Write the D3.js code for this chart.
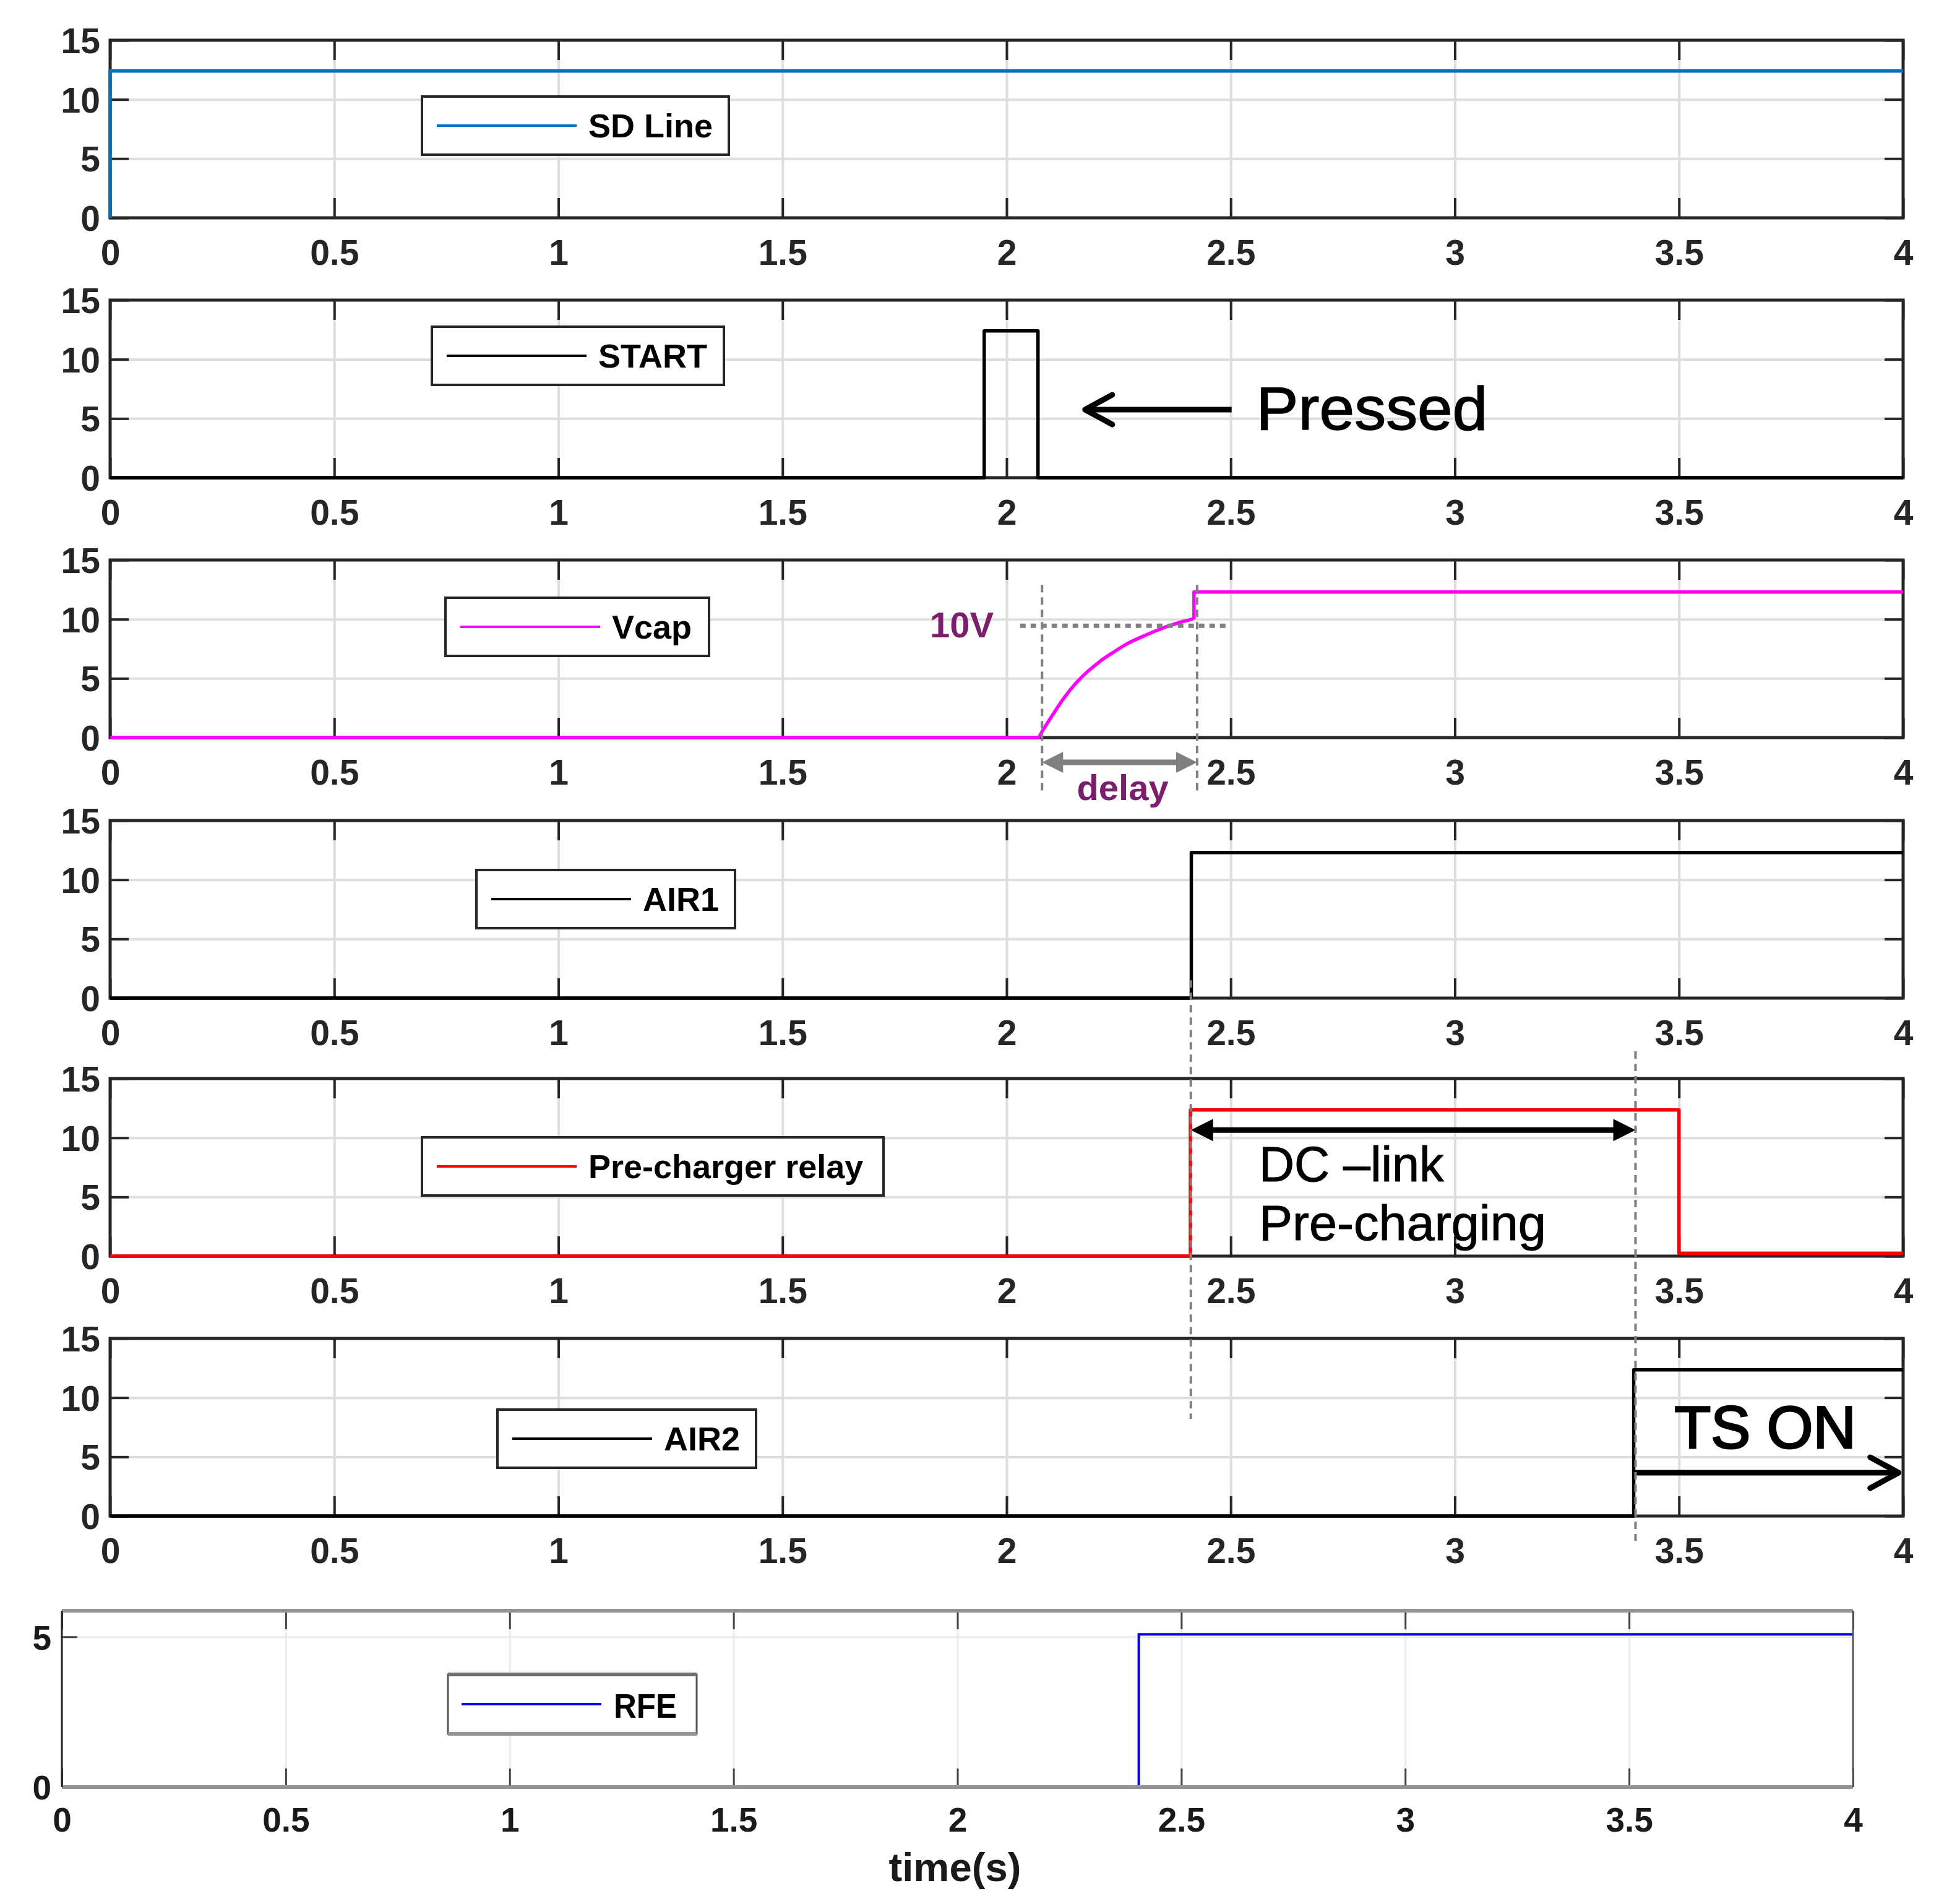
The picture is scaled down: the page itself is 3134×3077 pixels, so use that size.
<!DOCTYPE html>
<html><head><meta charset="utf-8">
<script src="https://cdn.jsdelivr.net/npm/d3@7"></script>
<style>html,body{margin:0;padding:0;background:#fff;} svg{display:block;}</style>
</head><body><svg id="chart" width="3134" height="3077"></svg>
<script>
// ---------------- data ----------------
const timeTicks = [0, 0.5, 1, 1.5, 2, 2.5, 3, 3.5, 4];
const voltTicks = [0, 5, 10, 15];
const rfeTicks = [0, 5];
const seriesNames = ["SD Line", "START", "Vcap", "AIR1", "Pre-charger relay", "AIR2", "RFE"];
const seriesColors = ["#0072BD", "#000000", "#FF00FF", "#000000", "#FF0000", "#000000", "#0000FF"];
// [time (s), value]
const sdLine = [[0, 0], [0, 12.4], [4, 12.4]];
const startSig = [[0, 0], [1.95, 0], [1.95, 12.4], [2.07, 12.4], [2.07, 0], [4, 0]];
const vcap = [[0, 0], [2.07, 0], [2.08, 0.58], [2.104, 2.0], [2.128, 3.35], [2.153, 4.53], [2.18, 5.55], [2.209, 6.46],
  [2.24, 7.25], [2.27, 7.95], [2.301, 8.5], [2.332, 9.0], [2.363, 9.45], [2.393, 9.8], [2.418, 10.1],
  [2.418, 12.3], [4, 12.3]];
const air1 = [[0, 0], [2.412, 0], [2.412, 12.3], [4, 12.3]];
const preCharger = [[0, 0], [2.41, 0], [2.41, 12.35], [3.5, 12.35], [3.5, 0.25], [4, 0.25]];
const air2 = [[0, 0], [3.399, 0], [3.399, 12.35], [4, 12.35]];
const rfe = [[0, 0], [2.405, 0], [2.405, 5.08], [4, 5.08]];
const mainSeries = [sdLine, startSig, vcap, air1, preCharger, air2];
const annotationTexts = { pressed: "Pressed", tenV: "10V", delay: "delay", dc1: "DC \u2013link", dc2: "Pre-charging", ts: "TS ON", xlabel: "time(s)" };

// ---------------- layout ----------------
const FONT = '"Liberation Sans", Arial, Helvetica, sans-serif';
const svg = d3.select('#chart');
svg.append('rect').attr('width', 3134).attr('height', 3077).attr('fill', '#fff');
const x = d3.scaleLinear().domain([0, 4]).range([178, 3076]);
const panelTops = [65, 485, 905, 1326, 1743, 2163];
const PH = 287;
const ys = panelTops.map(t => d3.scaleLinear().domain([0, 15]).range([t + PH, t]));
const legendBoxes = [[682, 156, 496, 94], [698, 528, 472, 94], [720, 966, 426, 94], [770, 1406, 418, 94],
  [682, 1838, 746, 94], [804, 2278, 418, 94]];

mainSeries.forEach((data, i) => {
  const y = ys[i];
  const top = panelTops[i], bot = top + PH;
  const g = svg.append('g');
  // grid
  const gx = g.append('g').attr('transform', `translate(0,${bot})`)
    .call(d3.axisBottom(x).tickValues(timeTicks.slice(1, -1)).tickSize(-PH).tickFormat(''));
  const gy = g.append('g').attr('transform', `translate(${x(0)},0)`)
    .call(d3.axisLeft(y).tickValues(voltTicks.slice(1, -1)).tickSize(-(x(4) - x(0))).tickFormat(''));
  [gx, gy].forEach(a => { a.select('.domain').remove(); a.selectAll('line').attr('stroke', '#dedede').attr('stroke-width', 4); });
  // ticks
  const bx = g.append('g').attr('transform', `translate(0,${bot})`)
    .call(d3.axisBottom(x).tickValues(timeTicks).tickSize(-32).tickFormat(d => String(d)));
  const tx = g.append('g').attr('transform', `translate(0,${top})`)
    .call(d3.axisTop(x).tickValues(timeTicks).tickSize(-32).tickFormat(''));
  const ly = g.append('g').attr('transform', `translate(${x(0)},0)`)
    .call(d3.axisLeft(y).tickValues(voltTicks).tickSize(-30).tickPadding(16).tickFormat(d => String(d)));
  const ry = g.append('g').attr('transform', `translate(${x(4)},0)`)
    .call(d3.axisRight(y).tickValues(voltTicks).tickSize(-30).tickFormat(''));
  [bx, tx, ly, ry].forEach(a => {
    a.select('.domain').remove();
    a.selectAll('line').attr('stroke', '#262626').attr('stroke-width', 4);
    a.selectAll('text').attr('fill', '#262626').style('font-family', FONT).style('font-weight', 'bold').style('font-size', '57px');
  });
  bx.selectAll('text').attr('y', 76).attr('dy', null);
  ly.selectAll('text').attr('dy', '0.36em');
  // frame
  g.append('rect').attr('x', x(0)).attr('y', top).attr('width', x(4) - x(0)).attr('height', PH)
    .attr('fill', 'none').attr('stroke', '#262626').attr('stroke-width', 5);
  // signal
  const ln = d3.line().x(d => x(d[0])).y(d => y(d[1])).curve(i === 2 ? d3.curveMonotoneX : d3.curveLinear);
  g.append('path').datum(data).attr('d', ln).attr('fill', 'none')
    .attr('stroke', seriesColors[i]).attr('stroke-width', 5.5).attr('stroke-linejoin', 'round');
  // legend
  const lb = legendBoxes[i];
  const lg = g.append('g');
  lg.append('rect').attr('x', lb[0]).attr('y', lb[1]).attr('width', lb[2]).attr('height', lb[3])
    .attr('fill', '#fff').attr('stroke', '#262626').attr('stroke-width', 4);
  const cy = lb[1] + lb[3] / 2;
  lg.append('line').attr('x1', lb[0] + 24).attr('x2', lb[0] + 250).attr('y1', cy).attr('y2', cy)
    .attr('stroke', seriesColors[i]).attr('stroke-width', 4);
  lg.append('text').attr('x', lb[0] + 269).attr('y', cy + 19).text(seriesNames[i])
    .style('font-family', FONT).style('font-weight', 'bold').style('font-size', '54px').attr('fill', '#000');
});

// ---------------- RFE panel ----------------
(function () {
  const xr = d3.scaleLinear().domain([0, 4]).range([100, 2995]);
  const top = 2603, bot = 2888, PH2 = bot - top;
  const yr = d3.scaleLinear().domain([0, 5.87]).range([bot, top]);
  const g = svg.append('g');
  const gx = g.append('g').attr('transform', `translate(0,${bot})`)
    .call(d3.axisBottom(xr).tickValues(timeTicks.slice(1, -1)).tickSize(-PH2).tickFormat(''));
  const gy = g.append('g').attr('transform', `translate(${xr(0)},0)`)
    .call(d3.axisLeft(yr).tickValues([5]).tickSize(-(xr(4) - xr(0))).tickFormat(''));
  [gx, gy].forEach(a => { a.select('.domain').remove(); a.selectAll('line').attr('stroke', '#ebebeb').attr('stroke-width', 3); });
  // signal (below frame)
  g.append('path').datum(rfe).attr('d', d3.line().x(d => xr(d[0])).y(d => yr(d[1]))).attr('fill', 'none')
    .attr('stroke', seriesColors[6]).attr('stroke-width', 4);
  const bx = g.append('g').attr('transform', `translate(0,${bot})`)
    .call(d3.axisBottom(xr).tickValues(timeTicks).tickSize(-30).tickFormat(d => String(d)));
  const tx = g.append('g').attr('transform', `translate(0,${top})`)
    .call(d3.axisTop(xr).tickValues(timeTicks).tickSize(-30).tickFormat(''));
  const ly = g.append('g').attr('transform', `translate(${xr(0)},0)`)
    .call(d3.axisLeft(yr).tickValues(rfeTicks).tickSize(-25).tickPadding(17).tickFormat(d => String(d)));
  [bx, tx, ly].forEach(a => {
    a.select('.domain').remove();
    a.selectAll('line').attr('stroke', '#444').attr('stroke-width', 3);
    a.selectAll('text').attr('fill', '#1a1a1a').style('font-family', FONT).style('font-weight', 'bold').style('font-size', '55px');
  });
  bx.selectAll('text').attr('y', 72).attr('dy', null);
  ly.selectAll('text').attr('dy', '0.36em');
  // frame: thick grey top/bottom, thin dark sides
  g.append('line').attr('x1', xr(0)).attr('x2', xr(4)).attr('y1', top).attr('y2', top).attr('stroke', '#939393').attr('stroke-width', 6);
  g.append('line').attr('x1', xr(0)).attr('x2', xr(4)).attr('y1', bot).attr('y2', bot).attr('stroke', '#939393').attr('stroke-width', 6);
  g.append('line').attr('x1', xr(0)).attr('x2', xr(0)).attr('y1', top).attr('y2', bot).attr('stroke', '#222').attr('stroke-width', 3);
  g.append('line').attr('x1', xr(4)).attr('x2', xr(4)).attr('y1', top).attr('y2', bot).attr('stroke', '#555').attr('stroke-width', 3);
  // legend
  const lb = [724, 2706, 402, 96];
  g.append('rect').attr('x', lb[0]).attr('y', lb[1]).attr('width', lb[2]).attr('height', lb[3])
    .attr('fill', '#fff').attr('stroke', '#555').attr('stroke-width', 3);
  g.append('line').attr('x1', lb[0]).attr('x2', lb[0] + lb[2]).attr('y1', lb[1]).attr('y2', lb[1]).attr('stroke', '#6e6e6e').attr('stroke-width', 6);
  g.append('line').attr('x1', lb[0]).attr('x2', lb[0] + lb[2]).attr('y1', lb[1] + lb[3]).attr('y2', lb[1] + lb[3]).attr('stroke', '#939393').attr('stroke-width', 6);
  const cy = lb[1] + lb[3] / 2;
  g.append('line').attr('x1', lb[0] + 22).attr('x2', lb[0] + 248).attr('y1', cy).attr('y2', cy)
    .attr('stroke', seriesColors[6]).attr('stroke-width', 4);
  g.append('text').attr('x', lb[0] + 268).attr('y', cy + 22).text(seriesNames[6])
    .attr('textLength', 102).attr('lengthAdjust', 'spacingAndGlyphs')
    .style('font-family', FONT).style('font-weight', 'bold').style('font-size', '56px').attr('fill', '#000');
  // x label
  g.append('text').attr('x', (xr(0) + xr(4)) / 2 - 4).attr('y', 3040).attr('text-anchor', 'middle').text(annotationTexts.xlabel)
    .attr('textLength', 214).attr('lengthAdjust', 'spacingAndGlyphs')
    .style('font-family', FONT).style('font-weight', 'bold').style('font-size', '64px').attr('fill', '#1a1a1a');
})();

// ---------------- annotations ----------------
const ann = svg.append('g');
function filledHead(xTip, y, dir, len, hw, color) {
  ann.append('path').attr('d', `M${xTip},${y}L${xTip + dir * len},${y - hw}L${xTip + dir * len},${y + hw}Z`).attr('fill', color);
}
function openHead(xTip, y, dir, len, hw, color, w) {
  ann.append('path').attr('d', `M${xTip + dir * len},${y - hw}L${xTip},${y}L${xTip + dir * len},${y + hw}`)
    .attr('fill', 'none').attr('stroke', color).attr('stroke-width', w).attr('stroke-linecap', 'round').attr('stroke-linejoin', 'round');
}
function hline(x1, x2, y, color, w, dash) {
  const l = ann.append('line').attr('x1', x1).attr('x2', x2).attr('y1', y).attr('y2', y).attr('stroke', color).attr('stroke-width', w);
  if (dash) l.attr('stroke-dasharray', dash);
  return l;
}
function vline(xx, y1, y2, color, w, dash) {
  const l = ann.append('line').attr('x1', xx).attr('x2', xx).attr('y1', y1).attr('y2', y2).attr('stroke', color).attr('stroke-width', w);
  if (dash) l.attr('stroke-dasharray', dash);
  return l;
}
function txt(xx, yy, s, size, weight, color, anchor) {
  return ann.append('text').attr('x', xx).attr('y', yy).text(s).attr('text-anchor', anchor || 'start')
    .style('font-family', FONT).style('font-weight', weight).style('font-size', size + 'px').attr('fill', color);
}
const PURPLE = '#7b1f6c', GREY = '#808080';

// Panel 2: Pressed
{
  const yy = ys[1](5.75);
  hline(x(2.502), x(2.18), yy, '#000', 9);
  openHead(x(2.175), yy, 1, 44, 24, '#000', 9);
  txt(x(2.557), ys[1](4.1), annotationTexts.pressed, 99, 'normal', '#000')
    .attr('textLength', 374).attr('lengthAdjust', 'spacingAndGlyphs').attr('stroke', '#000').attr('stroke-width', 1.5);
}
// Panel 3: 10V / delay
{
  const y3 = ys[2];
  hline(x(2.03), x(2.495), y3(9.45), GREY, 7, '9,8');
  txt(x(1.829), y3(8.45), annotationTexts.tenV, 58, 'bold', PURPLE);
  vline(x(2.079), y3(12.9), y3(-4.5), GREY, 4, '12,8');
  vline(x(2.425), y3(12.9), y3(-4.6), GREY, 4, '12,8');
  const ay = y3(0) + 40;
  hline(x(2.079) + 30, x(2.425) - 30, ay, GREY, 9);
  filledHead(x(2.079), ay, 1, 34, 17, GREY);
  filledHead(x(2.425), ay, -1, 34, 17, GREY);
  txt((x(2.079) + x(2.425)) / 2 + 5, y3(0) + 101, annotationTexts.delay, 58, 'bold', PURPLE, 'middle');
}
// Panel 5: DC-link pre-charging
{
  const y5 = ys[4];
  const ay = y5(10.65);
  hline(x(2.411) + 30, x(3.403) - 30, ay, '#000', 9);
  filledHead(x(2.411), ay, 1, 36, 18, '#000');
  filledHead(x(3.403), ay, -1, 36, 18, '#000');
  txt(x(2.563), y5(6.35), annotationTexts.dc1, 79, 'normal', '#000').attr('stroke', '#000').attr('stroke-width', 1);
  txt(x(2.563), y5(1.35), annotationTexts.dc2, 79, 'normal', '#000')
    .attr('textLength', 464).attr('lengthAdjust', 'spacingAndGlyphs').attr('stroke', '#000').attr('stroke-width', 1);
}
// Panel 6: TS ON
{
  const y6 = ys[5];
  const ay = y6(3.66);
  hline(x(3.399), x(3.985), ay, '#000', 9);
  openHead(x(3.99), ay, -1, 46, 25, '#000', 9);
  txt(x(3.49), y6(5.75), annotationTexts.ts, 96, 'normal', '#000').attr('stroke', '#000').attr('stroke-width', 3);
}
// long dashed guide lines across panels
vline(x(2.411), ys[3](1.5), ys[5](8.2), GREY, 4, '12,8');
vline(x(3.403), ys[4](17.3), ys[5](-2.1), GREY, 4, '12,8');
</script></body></html>
